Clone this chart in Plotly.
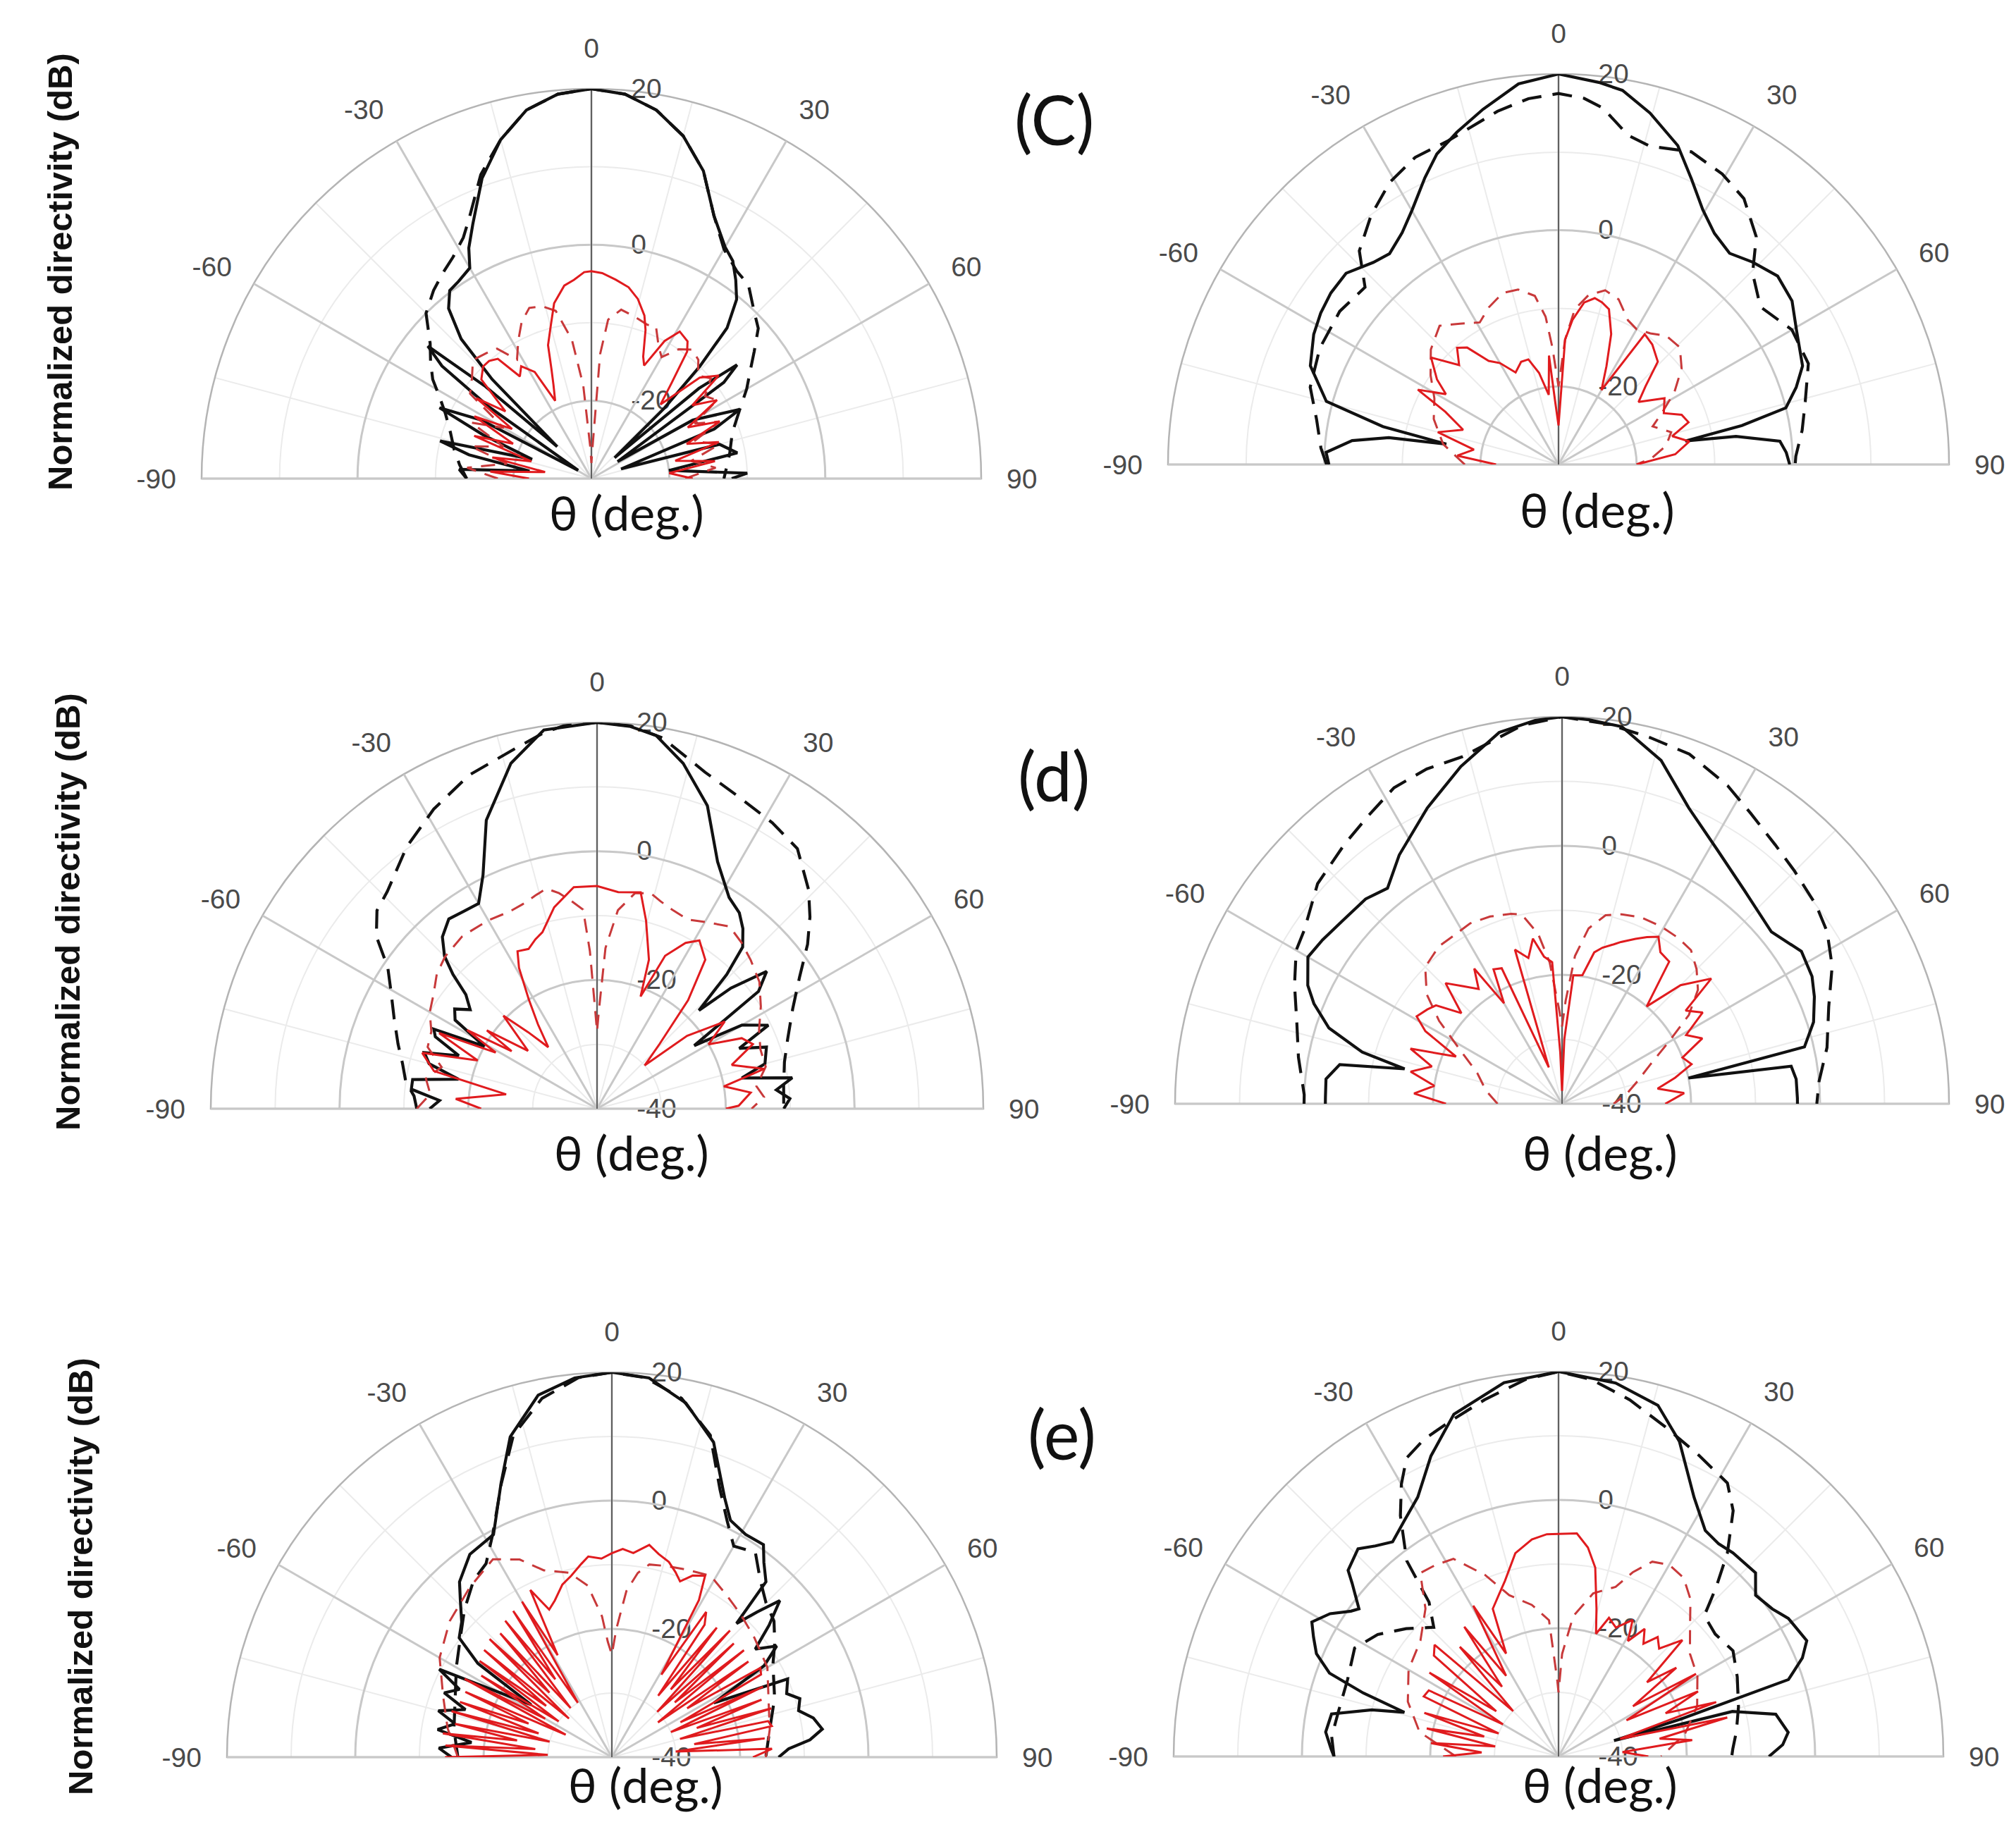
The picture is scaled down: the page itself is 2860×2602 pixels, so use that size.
import plotly.graph_objects as go

W, H = 2860, 2602

# ---------------- panel (c) left  (radial range -30..20 dB) ----------------
th_cL_bs = [-90,-86,-83,-79,-76,-72,-68,-65,-62,-58,-55,-53,-51,-49,-47,-45,-43,-40,-37,-34,-30,-28,-25,-20,-15,-10,-5,0,5,10,15,20,25,30,33,36,39,42,44,46,48,50,52,54,57,60,65,68,72,75,80,84,88,90]
r_cL_bs = [-14,-13,-22,-14,-10,-22,-15,-8.5,-14,-28,-14,-6,-3,-12,-24,-12,-5.5,-1.5,0.2,0.5,1.2,3.5,6,11,15,18,19.5,20,19.5,18,15.5,12,7.2,4.3,3.3,1.5,-0.4,-4,-10,-17,-26,-12,-6.3,-9,-26,-15,-9,-13,-26,-13,-11,-20,-10,-12]
th_cL_bd = [-90,-84,-78,-72,-66,-62,-58,-54,-50,-45,-40,-36,-32,-28,-25,-20,-15,-10,-5,0,5,10,15,20,25,30,35,39,44,48,52,55,60,65,72,80,90]
r_cL_bd = [-14,-13,-12,-11,-9.5,-8,-6,-4.5,-3,0,1.5,2.5,3.5,5,7,11.5,15,18,19.5,20,19.5,18,15.5,12,7.2,4,2.5,2,0,-1.2,-3.5,-5,-7,-9,-11,-12,-13]
th_cL_rs = [-90,-86,-82,-78,-74,-70,-66,-62,-58,-55,-52,-48,-44,-41,-38,-35,-32,-28,-25,-22,-20,-18,-15,-12,-8,-5,-2,0,3,7,11,14.5,18,20,23,25,28,31,35,37,40,43,47,51,54,58,62,66,70,74,78,82,86,90]
r_cL_rs = [-22,-17,-24,-17,-22,-14,-19,-13,-18,-12,-16,-11,-10,-10,-10.5,-14,-13,-14.5,-19,-17,-15,-12,-9.8,-7,-5,-4.4,-3.5,-3.4,-3.6,-4.3,-5,-6.2,-8,-9.7,-13,-14,-10,-8,-8.5,-9.6,-14,-17,-11,-9,-14,-11,-16,-12,-17,-13,-19,-14,-20,-17]
th_cL_rd = [-90,-85,-80,-75,-70,-65,-60,-55,-50,-45,-40,-36,-32,-28,-24,-20,-16,-12,-8,-5,-2,0,2,4,6,10,15,20,23,27,30,34,38,42,46,50,54,58,62,66,70,75,80,85,90]
r_cL_rd = [-18,-14,-19,-14,-18,-13,-17,-11,-10,-8.5,-9,-9.4,-12,-10,-8,-6.7,-7,-8,-12,-18,-26,-28,-26,-14,-9.5,-8,-8.5,-9,-8.8,-11,-12,-10,-9,-9.5,-11,-10,-12,-11,-15,-12,-16,-13,-17,-14,-18]

# ---------------- panel (c) right (radial range -30..20 dB) ----------------
th_cR_bs = [-90,-87,-83.4,-81,-79.7,-77.8,-74.8,-68.3,-62,-57.5,-53,-48,-42.5,-38.7,-34,-29.9,-25,-21.4,-17,-12,-6,0,6,9.7,14.6,20.5,25,29.5,34,39,43.8,49.3,55,60.5,68,72,76,78,79.5,81,84,87,90]
r_cR_bs = [-0.6,-0.2,-3.4,-8,-15.4,-7,0.8,4.2,5.5,6.1,6.5,6.6,5.1,4.6,5.8,7.6,10.5,12.7,14.5,16.5,19,20,19.2,18.6,16.5,13.6,10.3,7.5,5.7,4.8,5.9,7,6.5,5,3.7,2,0,-6,-13.5,-7,-1.5,-0.8,-0.4]
th_cR_bd = [-90,-86,-79.5,-72.7,-64,-55,-47.5,-43,-37,-30.9,-25,-18.8,-9.8,-4.7,0,4,7.1,11.9,16,23,29.4,34.9,41,45.4,52,60,68,75.7,82,88,90]
r_cR_bd = [-0.3,0.5,1.5,3.3,4,4.2,3.6,7.4,9.9,12.1,13.4,13.8,15.9,17,17.5,17,16,13.1,12.4,13.5,12.7,11.5,8.6,4.9,2.8,4.5,4.5,2.6,1.5,0.4,0.3]
th_cR_rs = [-90,-85,-80,-75,-70,-65,-62,-58,-55,-50,-45,-41,-38,-34,-30,-25,-20,-16,-12,-8,-5,-3,0,3,5.5,9,12.3,15,18,22,26,30,33.5,38,44,48,52,58,64,68,72,76,80,85,90]
r_cR_rs = [-22,-17,-19,-14,-17,-14,-9.6,-13,-11,-8.7,-12,-10.2,-11,-14,-15,-17,-16,-16,-18,-21,-16,-22,-25,-14,-11.4,-9,-8.2,-8.5,-9.1,-12,-16,-19,-10,-10.5,-11.7,-15,-17,-14,-15,-13,-12.5,-15,-13,-15,-20]
th_cR_rd = [-90,-80,-70,-62,-55,-48,-40.6,-35,-29,-24,-18,-13,-8,-5,-3,0,3,6,10,15,20,25.7,30,35,40,46,52,58,63,68,74,80,86,90]
r_cR_rd = [-18,-15,-13,-12,-10,-8,-6.6,-8,-9.2,-8,-6.9,-7,-8.2,-11,-15,-20,-14,-10,-8,-6.9,-7.5,-9.5,-10,-9.5,-8.5,-8.4,-10,-12.5,-15,-17,-15,-16,-18,-20]

# ---------------- panel (d) left  (radial range -40..20 dB) ----------------
th_dL_bs = [-90,-87,-84,-81,-78,-75,-72,-69,-66,-64,-61,-58,-55,-52,-49,-47,-45,-42,-38,-34,-30,-26,-21,-14,-8,0,5,9,14,20,26,32,36,39,42,44,46,48,51,54,57,60,64,67,70,75,78,81,84,87,90]
r_dL_bs = [-14,-15.5,-11,-11,-18,-13,-11.8,-17,-12.5,-11.8,-20,-14,-13,-15,-13,-9.4,-6.5,-4.1,-2.6,-3,-3.2,0.4,8,15.3,19.4,20,19.6,18.7,15.3,10.1,2.7,-1.3,-2.4,-4,-6.2,-11,-18,-12,-6.1,-9,-22,-14,-10.4,-16,-12,-13,-17,-9.3,-12,-10,-11]
th_dL_bd = [-90,-86,-82,-77,-72,-66,-60,-56,-52,-48,-44,-36,-28.6,-21,-12.4,-8,-5,0,5,10,17.8,24,31.5,37.6,44,48,52,57,63,70,76,83,90]
r_dL_bd = [-12,-11.5,-10,-9,-7.5,-5.5,-3,-0.8,3.5,6,6.9,10.3,13,15.5,17.5,19,19.7,20,19.7,18.5,14.9,13.3,12.1,11,7.3,4.5,1.5,-2.5,-5.9,-8.5,-10,-10.8,-11]
th_dL_rs = [-90,-86,-81,-77,-72.3,-68,-64.4,-61,-58.8,-56,-54.6,-50,-45.2,-42,-38.4,-35,-32,-29,-26.8,-23.2,-20,-17.2,-12,-6,0,5.6,11.4,14.6,19.2,21.2,24,28.1,31.3,36,40,44,47.7,51,55.7,60,64,67.5,72,76.6,80,84,88.8,90]
r_dL_rs = [-22,-18,-25.7,-14,-11.5,-20,-12.8,-22,-16.4,-24,-19,-26,-19.5,-24,-27.8,-24,-20,-15,-12.6,-13,-12,-11.3,-8,-5.4,-5.4,-6.2,-5.7,-9.8,-15.5,-21.3,-14,-10.8,-9.4,-11.4,-18,-26,-30,-22,-16,-20,-15,-13.8,-18,-13.3,-20,-16,-18,-20]
th_dL_rd = [-90,-85,-80,-75,-70,-65,-60,-55,-50,-45,-38,-30,-24,-20,-16,-13,-10,-7,-4,-2.6,-1,0,1,3,6,10,14,17,21,25.7,30,36,41,46,52,58,64,70,76,82,86,90]
r_dL_rd = [-12,-14,-13,-15,-12,-11.6,-10,-9,-7.5,-6.6,-6,-6.2,-6.5,-6.2,-5.5,-4.9,-6,-7.5,-9,-15.5,-25,-28,-25,-15,-9,-6,-5.5,-6.3,-7,-7.4,-6.5,-5,-5.8,-6.8,-8,-10,-12,-13,-13,-15,-14,-16]

# ---------------- panel (d) right (radial range -40..20 dB) ----------------
th_dR_bs = [-90,-88.5,-84,-80,-77.5,-75.5,-72,-68,-65,-60,-55.6,-50,-43.8,-39,-33.2,-24.5,-16.7,-9.6,-4,0,4,9,16.1,23.2,31.3,40.6,50.6,57.5,63,67,72,76.8,78.5,80.7,84,88.6,90]
r_dR_bs = [-3.3,-3.3,-3.2,-5,-15,-8,-2,1.5,3.5,5.5,5,4.3,4,3,6.1,10.4,14.6,18.4,19.6,20,19.7,19.2,15.4,9.9,6.2,3.5,2,4,3.5,2.5,1,-1.4,-20,-4,-3.5,-3.5,-3.5]
th_dR_bd = [-90,-88,-80,-73,-66,-60,-56,-48,-40,-34,-28,-22,-16,-6,0,7,13.5,20,27.5,33,39.5,45,52,57,63,70,78,85,90]
r_dR_bd = [0,0,1.5,3,5.4,7.6,8.2,11,12.5,13.8,15.5,16,16,19,20,19.3,18.4,17.7,15.6,13.7,12,11,10,9,7,4,2,0,-0.5]
th_dR_rs = [-90,-86,-82,-78,-74,-70,-66,-62,-59,-55,-52,-48,-44,-40,-36,-33,-30,-27,-24,-20,-17,-13,-10,-7,-4,-2,0,2,5,9,12,14.5,18,20,24,27,30,33,37,41,45,50,53,57,61,65,69,73,77,81,85,90]
r_dR_rs = [-22,-17,-20,-16,-19,-15,-22,-16,-13.7,-14.5,-15.2,-19,-14,-16.2,-18,-15,-22,-16.6,-17,-34,-15,-16.8,-14,-17,-18,-32,-38,-30,-20,-19.8,-16,-15,-14,-13.3,-12,-11,-10.1,-12,-12.4,-20,-14,-9.8,-16,-14,-18,-16,-20,-19,-22,-25,-21,-24]
th_dR_rd = [-90,-80,-70,-62,-56,-51,-45,-38,-33,-27,-21,-15,-12,-8,-5,-2,0,2,5,8.6,13,17.5,23,29,35,40,45,50,55,60,66,74,82,90]
r_dR_rd = [-30,-28,-26,-22,-17,-13,-10,-9,-9,-8.6,-8.9,-9.5,-10,-13.4,-18,-25,-28,-24,-17,-12.5,-10,-9.2,-8.6,-8.5,-8.6,-8.9,-10.5,-12.5,-16,-21,-25,-28,-30,-32]

# ---------------- panel (e) left  (radial range -40..20 dB) ----------------
th_eL_bs = [-90,-87,-84,-81,-78,-75,-72,-69,-66,-63,-60,-57,-55,-52,-48,-44,-41,-35,-28,-22,-17.6,-11.5,-5.6,0,5.6,11.8,17.9,23.5,26.6,31,35.5,38,41.3,43,45,47,50,53,56,59,62,66,70,72.7,76,79,82.4,85,87.3,90]
r_eL_bs = [-15,-13,-18,-12.5,-15,-12,-16,-12,-14,-9.8,-20,-25,-14.5,-9.8,-8.5,-6,-3.8,-1.4,-0.7,6.1,12.4,17.6,19.4,20,19.4,16.4,11.6,4.1,1.3,0.5,0.7,-1.5,-3.6,-11.5,-8,-4.2,-8,-12,-9,-12.3,-22,-10,-11,-9.3,-10,-8,-6.9,-9,-12.4,-14]
th_eL_bd = [-90,-80,-70,-60,-52,-45,-38,-33,-28,-22,-17,-11,-5,0,5,11,17,22,26,30,35,40,45,50,55,60,70,80,90]
r_eL_bd = [-16,-15,-14,-12,-10,-7.5,-5,-4,-0.5,6,12.5,17,19.4,20,19.4,17,12.5,5,1,-2,-1,-4,-6,-7,-9,-11,-13,-15,-16]
th_eL_rs = [-90,-88,-86,-84,-82,-80,-78,-76,-74,-72,-70,-68,-66,-64,-62,-60,-58,-56,-54,-52,-50,-48,-46,-44,-42,-40,-38,-36,-34,-32,-30,-28,
            -26,-23,-20,-16,-12.6,-9,-6.7,-3,0,3,6,10,13,16.3,19,21.2,24,27.2,
            29,31,33,35,37,39,41,43,45,47,49,51,53,55,57,59,61,63,65,67,69,71,73,75,77,79,81,83,85,87,90]
r_eL_rs = [-14,-30,-14,-28,-13.4,-25,-15,-30,-14,-28,-14.8,-26,-15,-32,-14,-28,-16,-30,-14.5,-27,-14,-31,-13.5,-26,-14,-30,-13,-25,-12.5,-30,-12,-22,
           -11,-15,-14,-12,-11,-9.5,-8.5,-9,-8.2,-7.5,-8,-6.4,-7.5,-8.3,-9.5,-10.6,-9,-8.2,
           -12,-25,-13,-14.8,-28,-14,-26,-13,-30,-14,-27,-13.5,-31,-14,-26,-13,-13.4,-28,-14,-30,-15,-26,-14,-29,-15,-14.6,-27,-16,-30,-15,-18]
th_eL_rd = [-90,-80,-70,-60,-50,-40,-31,-25,-20,-13,-8,-4,-2,0,2,5,8,11,16,22,28.6,35,42,50,60,70,80,90]
r_eL_rd = [-16,-14,-12,-9,-7,-5.5,-4,-6,-9,-10.5,-13,-18,-22,-24,-20,-14,-11,-9.4,-9,-8.5,-7.8,-9,-10,-11,-12,-14,-15,-16]

# ---------------- panel (e) right (radial range -40..20 dB) ----------------
th_eR_bs = [-90,-88,-84,-79.4,-76,-74,-72,-70,-67,-64,-61.4,-58,-55,-53.5,-50,-48.5,-44,-41,-37.7,-33,-28.5,-23,-17,-8.3,0,8.7,15.8,21,27.6,33,37,40.6,47,50.7,55.4,59,65,68,71.5,73,74,75.5,79,84,87,90]
r_eR_bs = [-5,-4.5,-3.5,-4,-10,-15,-8,-2,1,2.5,3.8,2,-0.5,-1.3,2,3.8,5,3.5,2.3,4,6,10.9,15.8,18.9,20,18.9,16.9,12.6,5.6,2,1.5,1.8,2,-0.3,0.5,1.8,2.7,1,-2.2,-20,-31,-12,-5.5,-4,-5,-7.2]
th_eR_bd = [-90,-85,-78,-70,-62,-56,-50,-44,-40,-37.8,-33.3,-30,-27,-23,-18,-11.7,-5,0,5,11.3,18,25,31.7,35.4,39.7,43,46,52,58.8,66,74.6,82,87.5,90]
r_eR_bd = [-5,-4.5,-5,-5,-4,-6,-9,-12,-8.6,-1.4,4.9,9,12.2,13.7,14.9,16.8,19,20,19,16.7,14,11.8,10.1,7,1.2,-4,-8.4,-9,-8.2,-9.5,-10.9,-12,-12.8,-13]
th_eR_rs = [-90,-87,-84,-81,-78,-75,-72,-69,-66,-63,-60,-57,-54,-51,-48,-45,-42,-39,-36,-33,-29.5,-27,-24,-20,-17,-12,-7,-3,0,4.7,8,11,14.4,17,20,24,28.5,31,34,37,39.7,43,46.8,50,53,56,59,62,65,68,71,74,77,80,83,86,90]
r_eR_rs = [-22,-28,-20,-30,-19,-28,-18,-30,-17,-17.3,-30,-16,-28,-15,-14,-30,-17,-26,-15,-25,-13,-22,-14.8,-13,-11.4,-7.6,-5.9,-5.3,-5.3,-5.1,-7.1,-10,-16.2,-20,-17,-18,-15.8,-19,-16,-18,-15.8,-17,-13.5,-22,-17,-26,-15,-28,-16,-22,-14,-30,-13,-24,-19,-30,-26]
th_eR_rd = [-90,-80,-70,-60,-50,-42,-37,-33,-28,-22,-17,-10,-4,-1,0,2,6,12,18.6,22,25.7,30,35,40,45,52,60,70,80,90]
r_eR_rd = [-24,-18,-15,-13,-11.9,-9,-4.2,-4.5,-5.1,-9.5,-13.7,-16,-18.7,-28,-30,-24,-18,-14,-12.1,-9,-6.3,-5.5,-6,-8,-11,-14,-15,-17,-20,-24]

theta_ticks = [-90, -60, -30, 0, 30, 60, 90]

# panel geometry in page pixels: centre x, centre y (baseline), outer radius
panels = [
    dict(rmin=-30, cx=831, cy=671, R=553,
         lines=[(th_cL_bd, r_cL_bd, "bd"), (th_cL_bs, r_cL_bs, "bs"), (th_cL_rd, r_cL_rd, "rd"), (th_cL_rs, r_cL_rs, "rs")]),
    dict(rmin=-30, cx=2203, cy=651, R=554,
         lines=[(th_cR_bd, r_cR_bd, "bd"), (th_cR_bs, r_cR_bs, "bs"), (th_cR_rd, r_cR_rd, "rd"), (th_cR_rs, r_cR_rs, "rs")]),
    dict(rmin=-40, cx=839, cy=1565, R=548,
         lines=[(th_dL_bd, r_dL_bd, "bd"), (th_dL_bs, r_dL_bs, "bs"), (th_dL_rd, r_dL_rd, "rd"), (th_dL_rs, r_dL_rs, "rs")]),
    dict(rmin=-40, cx=2208, cy=1558, R=549,
         lines=[(th_dR_bd, r_dR_bd, "bd"), (th_dR_bs, r_dR_bs, "bs"), (th_dR_rd, r_dR_rd, "rd"), (th_dR_rs, r_dR_rs, "rs")]),
    dict(rmin=-40, cx=860, cy=2485, R=546,
         lines=[(th_eL_bd, r_eL_bd, "bd"), (th_eL_bs, r_eL_bs, "bs"), (th_eL_rd, r_eL_rd, "rd"), (th_eL_rs, r_eL_rs, "rs")]),
    dict(rmin=-40, cx=2203, cy=2484, R=546,
         lines=[(th_eR_bd, r_eR_bd, "bd"), (th_eR_bs, r_eR_bs, "bs"), (th_eR_rd, r_eR_rd, "rd"), (th_eR_rs, r_eR_rs, "rs")]),
]

styles = {
    "bs": dict(color="#111111", width=4.2, dash="solid"),
    "bd": dict(color="#111111", width=4.2, dash="28px,16px"),
    "rs": dict(color="#e01b1e", width=3, dash="solid"),
    "rd": dict(color="#c8393a", width=3, dash="20px,13px"),
}

tick_font = dict(family="Liberation Sans, Arial, sans-serif", size=39, color="#4a4a4a")

fig = go.Figure()
layout = {}

for i, p in enumerate(panels):
    base = "polar" if i == 0 else f"polar{2 * i + 1}"
    top = f"polar{2 * i + 2}"
    dom = dict(x=[(p["cx"] - p["R"]) / W, (p["cx"] + p["R"]) / W],
               y=[1 - p["cy"] / H, 1 - (p["cy"] - p["R"]) / H])
    rvals = list(range(p["rmin"], 21, 10))
    rtext = [str(v) if v % 20 == 0 else "" for v in rvals]

    # bottom layer: light minor grid, outer arc and tick labels
    layout[base] = dict(
        domain=dom, sector=[0, 180], bgcolor="white",
        angularaxis=dict(rotation=90, direction="clockwise", tickmode="array",
                         tickvals=list(range(-90, 91, 15)),
                         ticktext=[str(v) if v % 30 == 0 else "" for v in range(-90, 91, 15)],
                         showgrid=True, gridcolor="#ebebeb", gridwidth=1.5,
                         showline=True, linecolor="#b4b4b4", linewidth=2.5,
                         ticks="outside", ticklen=27, tickcolor="rgba(0,0,0,0)",
                         tickfont=tick_font),
        radialaxis=dict(range=[p["rmin"], 20], tickmode="array", tickvals=rvals, ticktext=rtext,
                        angle=90, tickangle=90, showline=False, showgrid=True,
                        gridcolor="#ebebeb", gridwidth=1.5,
                        ticks="outside", ticklen=48, tickcolor="rgba(0,0,0,0)",
                        tickfont=tick_font),
    )
    # top layer: major grid + data
    layout[top] = dict(
        domain=dom, sector=[0, 180], bgcolor="rgba(0,0,0,0)",
        angularaxis=dict(rotation=90, direction="clockwise", tickmode="array",
                         tickvals=theta_ticks, showticklabels=False,
                         showgrid=True, gridcolor="#c8c8c8", gridwidth=2.5,
                         showline=False, ticks="", layer="below traces"),
        radialaxis=dict(range=[p["rmin"], 20], tickmode="array", tickvals=[-20, 0, 20],
                        showticklabels=False, angle=90, showline=True,
                        linecolor="#606060", linewidth=2, showgrid=True,
                        gridcolor="#c8c8c8", gridwidth=2.5, ticks="", layer="below traces"),
    )
    # empty trace so the bottom polar gets drawn
    fig.add_trace(go.Scatterpolar(theta=[], r=[], mode="lines", subplot=base,
                                  hoverinfo="skip", showlegend=False))
    for th, rr, kind in p["lines"]:
        fig.add_trace(go.Scatterpolar(theta=th, r=rr, mode="lines", subplot=top,
                                      line=styles[kind], hoverinfo="skip", showlegend=False))

ann = []
ylab = "<b>Normalized directivity (dB)</b>"
for x, y in [(77, 378), (88, 1286), (106, 2229)]:
    ann.append(dict(x=x / W, y=1 - y / H, xref="paper", yref="paper", text=ylab,
                    textangle=-90, showarrow=False, xanchor="center", yanchor="middle",
                    font=dict(family="Liberation Sans, Arial, sans-serif", size=49, color="#111")))
for x, y in [(881, 718), (2258, 714), (888, 1626), (2262, 1626), (908, 2523), (2262, 2523)]:
    ann.append(dict(x=x / W, y=1 - y / H, xref="paper", yref="paper", text="θ (deg.)",
                    showarrow=False, xanchor="center", yanchor="middle",
                    font=dict(family="Lato, Open Sans, sans-serif", size=68, color="#111")))
for txt, x, y in [("(C)", 1487, 160), ("(d)", 1487, 1091), ("(e)", 1499, 2025)]:
    ann.append(dict(x=x / W, y=1 - y / H, xref="paper", yref="paper", text=txt,
                    showarrow=False, xanchor="center", yanchor="middle",
                    font=dict(family="Lato, Open Sans, sans-serif", size=96, color="#111")))

fig.update_layout(width=W, height=H, margin=dict(l=0, r=0, t=0, b=0),
                  paper_bgcolor="white", showlegend=False, annotations=ann, **layout)

fig.write_html("out.html")
